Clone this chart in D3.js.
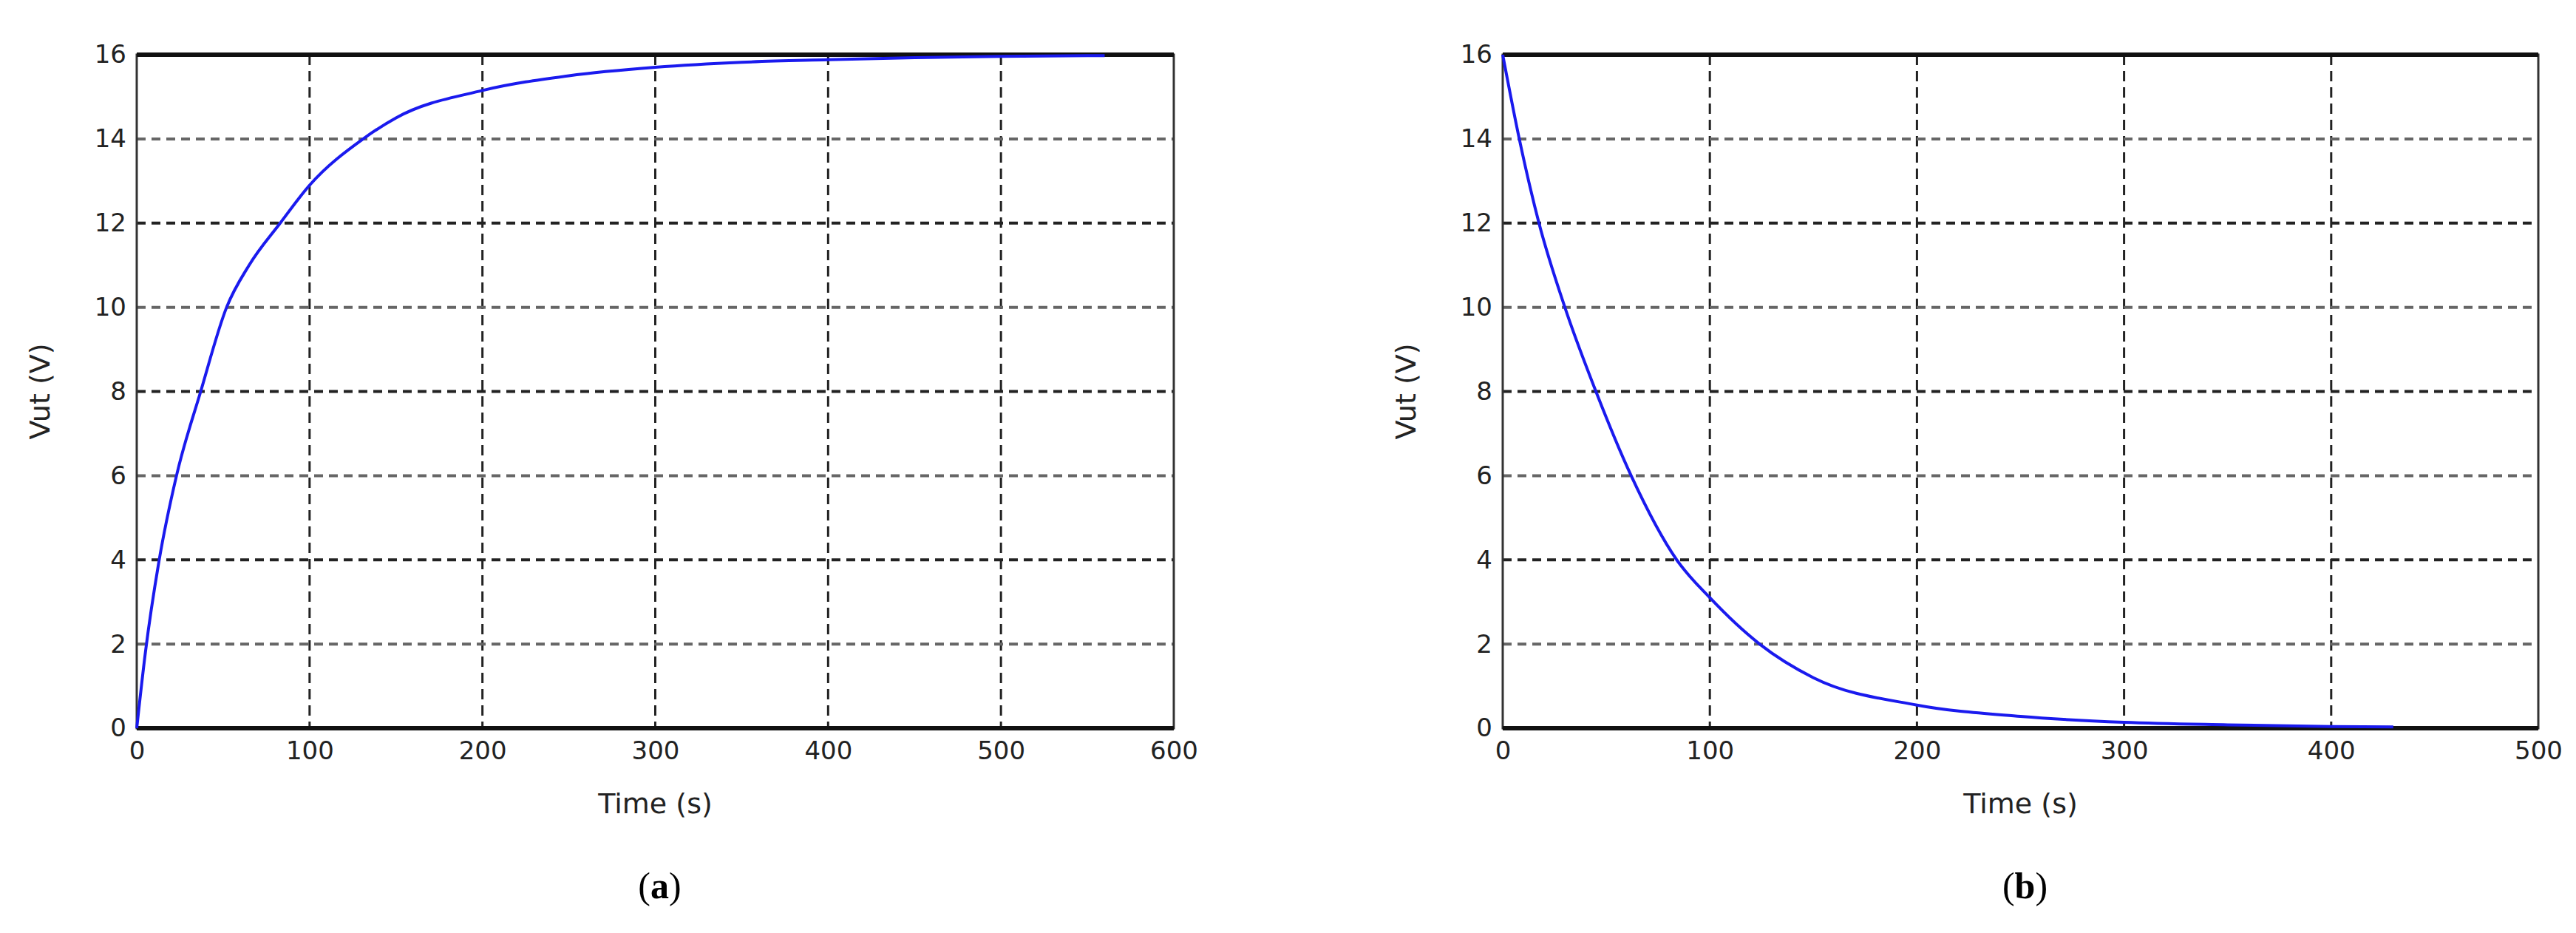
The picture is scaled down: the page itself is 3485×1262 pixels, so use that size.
<!DOCTYPE html>
<html><head><meta charset="utf-8">
<script src="https://cdn.jsdelivr.net/npm/d3@7"></script>
<style>body{margin:0;background:#fff}</style>
</head><body>
<svg id="chart" width="3485" height="1262"></svg>
<script>
// charging curve (a)
var timeA = [0, 5, 13, 23, 37, 52, 65, 83, 100, 131, 150, 200, 250, 300, 350, 400, 450, 500, 560];
var voltA = [0, 1.8, 4, 6, 8, 10, 11, 12, 12.9, 14, 14.5, 15.15, 15.5, 15.7, 15.82, 15.88, 15.93, 15.96, 15.98];
// discharging curve (b)
var timeB = [0, 8, 17.5, 30, 45, 62, 84, 100, 124, 150, 200, 250, 300, 350, 400, 430];
var voltB = [16, 14, 12, 10, 8, 6, 4, 3.1, 2, 1.2, 0.55, 0.28, 0.14, 0.08, 0.04, 0.03];
var yTicks = [0, 2, 4, 6, 8, 10, 12, 14, 16];
var xTicksA = [0, 100, 200, 300, 400, 500, 600];
var xTicksB = [0, 100, 200, 300, 400, 500];

var svg = d3.select("#chart");

function panel(left, right, xmax, xt, tArr, vArr, tag){
	var top = 74, bottom = 985;
	var x = d3.scaleLinear().domain([0, xmax]).range([left, right]);
	var y = d3.scaleLinear().domain([0, 16]).range([bottom, top]);
	var g = svg.append("g");

	// grid
	g.selectAll(".gx").data(xt.slice(1, -1)).enter().append("line")
		.attr("x1", d => x(d)).attr("x2", d => x(d))
		.attr("y1", top).attr("y2", bottom)
		.attr("stroke", "#222").attr("stroke-width", 3).attr("stroke-dasharray", "14,8");
	g.selectAll(".gy").data(yTicks.slice(1, -1)).enter().append("line")
		.attr("x1", left).attr("x2", right)
		.attr("y1", d => y(d)).attr("y2", d => y(d))
		.attr("stroke", (d, i) => i % 2 ? "#222" : "#666").attr("stroke-width", 4).attr("stroke-dasharray", "12,8");

	// frame
	g.append("rect").attr("x", left).attr("y", top)
		.attr("width", right - left).attr("height", bottom - top)
		.attr("fill", "none").attr("stroke", "#333").attr("stroke-width", 3);
	g.append("line").attr("x1", left).attr("x2", right).attr("y1", top).attr("y2", top)
		.attr("stroke", "#111").attr("stroke-width", 6);
	g.append("line").attr("x1", left).attr("x2", right).attr("y1", bottom).attr("y2", bottom)
		.attr("stroke", "#111").attr("stroke-width", 6);

	// axes
	var xAxis = d3.axisBottom(x).tickValues(xt).tickSize(0).tickPadding(18);
	var yAxis = d3.axisLeft(y).tickValues(yTicks).tickSize(0).tickPadding(14);
	var ax = g.append("g").attr("transform", "translate(0," + bottom + ")").call(xAxis);
	var ay = g.append("g").attr("transform", "translate(" + left + ",0)").call(yAxis);
	[ax, ay].forEach(function(a){
		a.select(".domain").remove();
		a.selectAll("text").attr("font-family", "DejaVu Sans").attr("font-size", 34).attr("fill", "#222");
	});

	// curve
	var pts = tArr.map((t, i) => [t, vArr[i]]);
	g.append("path").datum(pts)
		.attr("fill", "none").attr("stroke", "#1a1aee").attr("stroke-width", 4)
		.attr("d", d3.line().x(d => x(d[0])).y(d => y(d[1])).curve(d3.curveMonotoneX));

	// labels
	g.append("text").attr("x", (left + right) / 2).attr("y", 1100)
		.attr("text-anchor", "middle").attr("font-family", "DejaVu Sans").attr("font-size", 38)
		.attr("fill", "#222").text("Time (s)");
	g.append("text").attr("transform", "translate(" + (left - 118) + "," + ((top + bottom) / 2) + ") rotate(-90)")
		.attr("text-anchor", "middle").attr("font-family", "DejaVu Sans").attr("font-size", 38)
		.attr("fill", "#222").text("Vut (V)");
	var t = g.append("text").attr("x", (left + right) / 2 + 6).attr("y", 1215)
		.attr("text-anchor", "middle").attr("font-family", "Liberation Serif").attr("font-size", 50);
	t.append("tspan").text("(");
	t.append("tspan").attr("font-weight", "bold").text(tag);
	t.append("tspan").text(")");
}

panel(185, 1588, 600, xTicksA, timeA, voltA, "a");
panel(2033, 3434, 500, xTicksB, timeB, voltB, "b");
</script>
</body></html>
